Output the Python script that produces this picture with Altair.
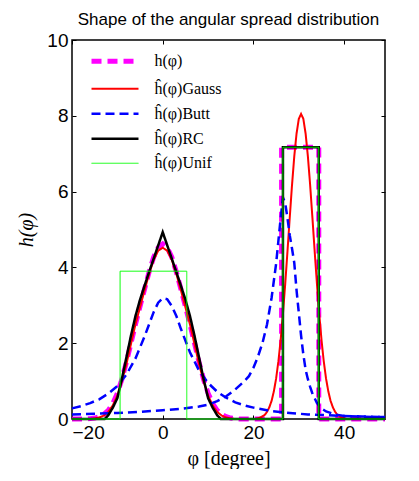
import altair as alt
import pandas as pd

SERIES = ["h(φ)", "ĥ(φ)Gauss", "ĥ(φ)Butt", "ĥ(φ)RC", "ĥ(φ)Unif"]
COLORS = ["#ff00ff", "#ff0000", "#0000ff", "#000000", "#00ff00"]
DASHES = [[10, 6], [1, 0], [9, 5], [1, 0], [1, 0]]
WIDTHS = [5, 2, 2.5, 2.5, 1]

X_TICKS = [-20, 0, 20, 40]
Y_TICKS = [0, 2, 4, 6, 8, 10]

# h(phi)  (magenta)
H_X = [-20, -17, -16, -15, -14, -13, -12, -11, -10, -9, -8, -7, -6, -5, -4, -3, -2, -1, 0,
       1, 2, 3, 4, 5, 6, 7, 8, 9, 10, 11, 12, 13, 14, 15, 16, 17, 26.2, 26.2, 34.4, 34.4, 49]
H_Y = [0, 0, 0.01, 0.025, 0.06, 0.12, 0.23, 0.41, 0.68, 1.05, 1.5, 2.0, 2.5, 2.97, 3.43, 3.88, 4.27, 4.52, 4.62,
       4.52, 4.27, 3.88, 3.43, 2.97, 2.5, 2.0, 1.5, 1.05, 0.68, 0.41, 0.23, 0.12, 0.06, 0.025, 0.01, 0,
       0, 7.17, 7.17, 0, 0]

# Gauss (red)
G_X = [-20, -16, -15, -14, -13, -12, -11, -10, -9, -8, -7, -6, -5, -4, -3, -2, -1, 0,
       1, 2, 3, 4, 5, 6, 7, 8, 9, 10, 11, 12, 13, 14, 15, 16,
       20.5, 21.5, 22.5, 23, 23.5, 24, 24.5, 25, 25.5, 26, 26.5, 27, 27.5, 28, 28.5, 29, 29.5, 30, 30.5,
       31, 31.5, 32, 32.5, 33, 33.5, 34, 34.5, 35, 35.5, 36, 36.5, 37, 37.5, 38, 38.5, 39.5, 40.5, 49]
G_Y = [0, 0, 0.015, 0.04, 0.09, 0.19, 0.36, 0.62, 1.0, 1.45, 1.98, 2.5, 2.95, 3.4, 3.83, 4.2, 4.44, 4.52,
       4.44, 4.2, 3.83, 3.4, 2.95, 2.5, 1.98, 1.45, 1.0, 0.62, 0.36, 0.19, 0.09, 0.04, 0.015, 0,
       0, 0.04, 0.11, 0.19, 0.31, 0.48, 0.73, 1.07, 1.52, 2.09, 2.77, 3.56, 4.42, 5.31, 6.17, 6.93, 7.53, 7.92, 8.05,
       7.92, 7.53, 6.93, 6.17, 5.31, 4.42, 3.56, 2.77, 2.09, 1.52, 1.07, 0.73, 0.48, 0.31, 0.19, 0.11, 0.04, 0, 0]

# Butterworth (blue), two components
B1_X = [-20, -18, -16, -14, -12, -10, -8, -6, -4, -3, -2, -1, 0, 1, 2, 3, 4, 6, 8, 10, 12, 14, 16, 18, 20,
        24, 28, 32, 36, 40, 44, 49]
B1_Y = [0.28, 0.34, 0.42, 0.52, 0.67, 0.87, 1.17, 1.6, 2.18, 2.5, 2.82, 3.07, 3.19, 3.16, 2.98, 2.72, 2.38,
        1.76, 1.28, 0.95, 0.72, 0.56, 0.44, 0.36, 0.30, 0.21, 0.16, 0.12, 0.10, 0.08, 0.065, 0.053]
B2_X = [-20, -15, -10, -5, 0, 4, 8, 10, 12, 14, 16, 18, 19, 20, 21, 22, 23, 24, 25,
        25.5, 26, 26.5, 27, 27.5, 28, 28.5, 29, 29.5, 30, 30.5, 31, 31.5, 32, 32.5, 33,
        34, 35, 36, 38, 40, 44, 49]
B2_Y = [0.12, 0.14, 0.16, 0.19, 0.23, 0.27, 0.33, 0.38, 0.47, 0.6, 0.78, 1.0, 1.13, 1.35, 1.65, 2.01, 2.5, 3.2, 4.1,
        4.7, 5.3, 5.84, 5.7, 5.3, 4.85, 4.5, 4.12, 3.4, 2.8, 2.2, 1.7, 1.3, 1.05, 0.85, 0.67,
        0.42, 0.28, 0.2, 0.12, 0.08, 0.06, 0.05]

# Raised cosine (black)
R_X = [-20, -12.8, -12, -11, -10, -9, -8, -7, -6, -5, -4, -3, -2, -1, 0,
       1, 2, 3, 4, 5, 6, 7, 8, 9, 10, 11, 12, 12.8, 26.5, 26.5, 34.4, 34.4, 49]
R_Y = [0, 0, 0.1, 0.3, 0.55, 1.06, 1.63, 2.2, 2.72, 3.15, 3.52, 3.88, 4.23, 4.58, 4.93,
       4.58, 4.23, 3.88, 3.52, 3.15, 2.72, 2.2, 1.63, 1.06, 0.55, 0.3, 0.1, 0, 0, 7.17, 7.17, 0, 0]

# Uniform (green)
U_X = [-20, -9.4, -9.4, 5.3, 5.3, 26.5, 26.5, 34.4, 34.4, 49]
U_Y = [0, 0, 3.9, 3.9, 0, 0, 7.17, 7.17, 0, 0]

rows = []
def add(series, seg, xs, ys):
    for i, (x, y) in enumerate(zip(xs, ys)):
        rows.append({"series": series, "seg": seg, "idx": i, "x": x, "y": y})

add(SERIES[0], "a", H_X, H_Y)
add(SERIES[1], "a", G_X, G_Y)
add(SERIES[2], "a", B1_X, B1_Y)
add(SERIES[2], "b", B2_X, B2_Y)
add(SERIES[3], "a", R_X, R_Y)
add(SERIES[4], "a", U_X, U_Y)
df = pd.DataFrame(rows)

XDOM = [-20, 49]
YDOM = [0, 10]

enc_color = alt.Color("series:N", scale=alt.Scale(domain=SERIES, range=COLORS), title=None)
enc_dash = alt.StrokeDash("series:N", scale=alt.Scale(domain=SERIES, range=DASHES), title=None)
enc_width = alt.StrokeWidth("series:N", scale=alt.Scale(type="ordinal", domain=SERIES, range=WIDTHS), title=None)

x_enc = alt.X("x:Q", scale=alt.Scale(domain=XDOM, nice=False, zero=False),
              axis=alt.Axis(orient="bottom", offset=-4, tickSize=4, domain=False, grid=False,
                            values=X_TICKS, labelFontSize=19, labelFont="Liberation Sans",
                            labelColor="black", labelPadding=4, tickColor="black",
                            title="φ [degree]", titleFont="Liberation Serif", titleFontSize=20,
                            titleFontWeight="normal", titleColor="black", titlePadding=6))
y_enc = alt.Y("y:Q", scale=alt.Scale(domain=YDOM, nice=False),
              axis=alt.Axis(orient="left", offset=-4, tickSize=4, domain=False, grid=False,
                            values=Y_TICKS, labelFontSize=19, labelFont="Liberation Sans",
                            labelColor="black", labelPadding=4, tickColor="black",
                            title="h(φ)", titleFont="Liberation Serif", titleFontSize=20,
                            titleFontStyle="italic", titleFontWeight="normal", titleColor="black",
                            titlePadding=10))

layers = []
for s in SERIES:
    layers.append(
        alt.Chart(df).transform_filter(alt.datum.series == s)
        .mark_line(strokeCap="butt", strokeJoin="miter")
        .encode(x=x_enc, y=y_enc, color=enc_color, strokeDash=enc_dash, strokeWidth=enc_width,
                detail="seg:N", order=alt.Order("idx:Q"))
    )
data_layer = alt.layer(*layers)

ticks = alt.Chart(df).mark_point(opacity=0).encode(
    x=alt.X("x:Q", scale=alt.Scale(domain=XDOM, nice=False, zero=False),
            axis=alt.Axis(orient="top", offset=-4, tickSize=4, domain=False, grid=False, labels=False,
                          values=X_TICKS, tickColor="black", title=None)),
    y=alt.Y("y:Q", scale=alt.Scale(domain=YDOM, nice=False),
            axis=alt.Axis(orient="right", offset=-4, tickSize=4, domain=False, grid=False, labels=False,
                          values=Y_TICKS, tickColor="black", title=None)),
)

chart = alt.layer(data_layer, ticks).resolve_scale(x="independent", y="independent").properties(
    width=313, height=379,
    title=alt.TitleParams("Shape of the angular spread distribution", font="Liberation Sans",
                          fontSize=17, fontWeight="normal", color="black", anchor="middle", offset=2),
    autosize=alt.AutoSizeParams(type="none"),
    padding={"left": 64, "top": 32, "right": 26, "bottom": 50},
).configure_view(stroke="black", strokeWidth=1.5).configure_legend(
    orient="none", legendX=17, legendY=6.75, symbolType="M-2,0H2", symbolSize=552,
    symbolOffset=11.5, symbolFillColor="transparent",
    labelFont="Liberation Serif", labelFontSize=16, labelColor="black", labelOffset=25,
    rowPadding=4, padding=0, titlePadding=0,
)

chart.save("out.html", embed_options={"renderer": "svg", "actions": False})
